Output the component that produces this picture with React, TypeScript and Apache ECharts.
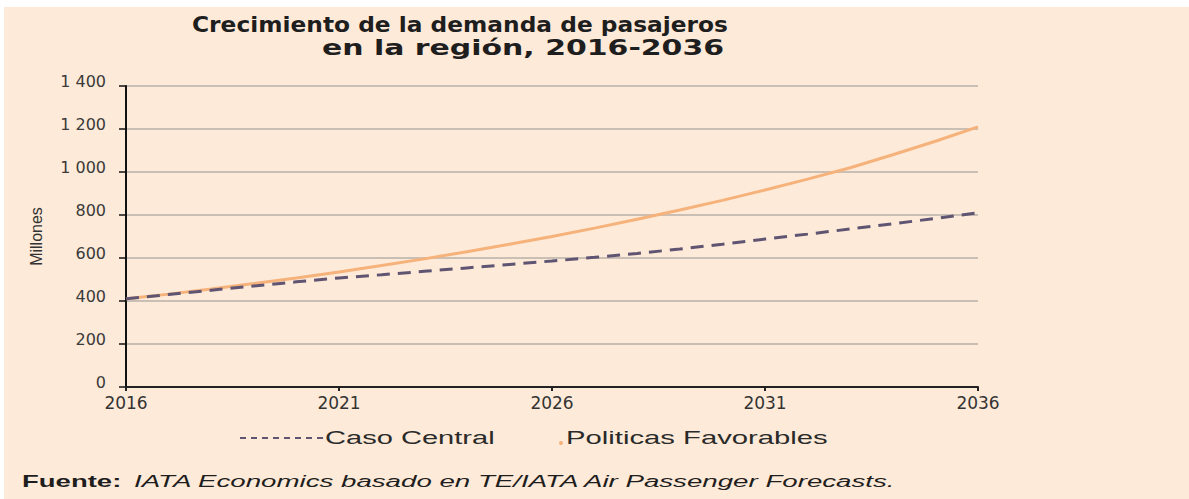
import React, { useEffect, useRef } from "react";
import * as echarts from "echarts";

const years = [
  "2016", "2017", "2018", "2019", "2020", "2021", "2022", "2023", "2024", "2025", "2026",
  "2027", "2028", "2029", "2030", "2031", "2032", "2033", "2034", "2035", "2036",
];
const casoCentral = [
  410, 430, 450, 470, 489, 507, 522, 538, 554, 570, 586,
  603, 621, 642, 664, 688, 711, 735, 759, 784, 810,
];
const politicasFavorables = [
  410, 432, 456, 481, 507, 535, 565, 596, 629, 664, 700,
  739, 780, 823, 868, 916, 967, 1020, 1080, 1143, 1210,
];
const seriesNames = ["Caso Central", "Politicas Favorables"];
const titleLines = ["Crecimiento de la demanda de pasajeros", "en la región, 2016-2036"];
const yAxisName = "Millones";
const sourceLabel = "Fuente:";
const sourceText = "IATA Economics basado en TE/IATA Air Passenger Forecasts.";

const BG = "#FEEAD8";
const ORANGE = "#F6B27B";
const PURPLE = "#5F5572";

function fmtThousands(v: number): string {
  if (v >= 1000) {
    return Math.floor(v / 1000) + " " + String(v % 1000).padStart(3, "0");
  }
  return String(v);
}

export default function App() {
  const ref = useRef<HTMLDivElement>(null);
  useEffect(() => {
    if (!ref.current) return;
    const chart = echarts.init(ref.current, undefined, { renderer: "svg" });
    const txt = (x: number, y: number, text: string, font: string, sx: number, fill = "#1e1e1e", align = "left") => ({
      type: "text",
      x,
      y,
      scaleX: sx,
      silent: true,
      style: {
        text,
        font,
        fill,
        textAlign: align,
        align,
        textVerticalAlign: "middle",
        verticalAlign: "middle",
      },
    });
    chart.setOption({
      animation: false,
      backgroundColor: BG,
      grid: { left: 126, right: 211, top: 86, bottom: 112, containLabel: false },
      xAxis: {
        type: "category",
        data: years,
        boundaryGap: false,
        axisLine: { show: true, lineStyle: { color: "#222", width: 2 } },
        axisTick: { show: true, interval: 4, length: 4, lineStyle: { color: "#222", width: 2 } },
        axisLabel: {
          interval: 4,
          margin: 7,
          color: "#333",
          fontSize: 17,
          fontFamily: "DejaVu Sans",
        },
        splitLine: { show: false },
      },
      yAxis: {
        type: "value",
        min: 0,
        max: 1400,
        interval: 200,
        name: yAxisName,
        nameLocation: "middle",
        nameGap: 82,
        nameRotate: 90,
        nameTextStyle: { color: "#333", fontSize: 16, fontFamily: "Liberation Sans" },
        axisLine: { show: true, lineStyle: { color: "#111", width: 2 } },
        axisTick: { show: true, length: 7, lineStyle: { color: "#111", width: 1.5 } },
        axisLabel: {
          formatter: (v: number) => "{a|" + fmtThousands(v) + "}",
          margin: 20,
          color: "#3a3a3a",
          fontSize: 16,
          fontFamily: "DejaVu Sans",
          rich: {
            a: {
              fontSize: 16,
              fontFamily: "DejaVu Sans",
              color: "#3a3a3a",
              padding: [0, 0, 9, 0],
            },
          },
        },
        splitLine: { show: true, lineStyle: { color: "#B9B1A9", width: 1.5 } },
      },
      series: [
        {
          name: seriesNames[0],
          type: "line",
          data: casoCentral,
          symbol: "none",
          z: 3,
          lineStyle: { color: PURPLE, width: 3, type: [13, 8] },
        },
        {
          name: seriesNames[1],
          type: "line",
          data: politicasFavorables,
          symbol: "none",
          z: 2,
          lineStyle: { color: ORANGE, width: 3 },
        },
      ],
      graphic: [
        { type: "rect", silent: true, shape: { x: 0, y: 0, width: 1189, height: 7 }, style: { fill: "#ffffff" } },
        { type: "rect", silent: true, shape: { x: 0, y: 0, width: 4, height: 499 }, style: { fill: "#ffffff" } },
        txt(192, 24, titleLines[0], 'bold 22px "DejaVu Sans"', 1.06),
        txt(322, 47, titleLines[1], 'bold 22px "DejaVu Sans"', 1.36),
        {
          type: "line",
          silent: true,
          shape: { x1: 240, y1: 438, x2: 323, y2: 438 },
          style: { stroke: PURPLE, lineWidth: 1.8, lineDash: [6, 5] },
        },
        txt(325, 437, seriesNames[0], '19px "Liberation Sans"', 1.53, "#2a2a2a"),
        { type: "circle", silent: true, shape: { cx: 561, cy: 443, r: 2 }, style: { fill: ORANGE } },
        txt(566, 437, seriesNames[1], '19px "Liberation Sans"', 1.54, "#2a2a2a"),
        txt(22, 482, sourceLabel, 'bold 16px "Liberation Sans"', 1.72, "#1e1e1e"),
        txt(134, 482, sourceText, 'italic 16px "Liberation Sans"', 1.73, "#1e1e1e"),
      ],
    });
    return () => chart.dispose();
  }, []);
  return (
    <div style={{ position: "fixed", left: 0, top: 0, width: 1189, height: 499, background: "#fff" }}>
      <div ref={ref} style={{ width: 1189, height: 499 }} />
    </div>
  );
}
